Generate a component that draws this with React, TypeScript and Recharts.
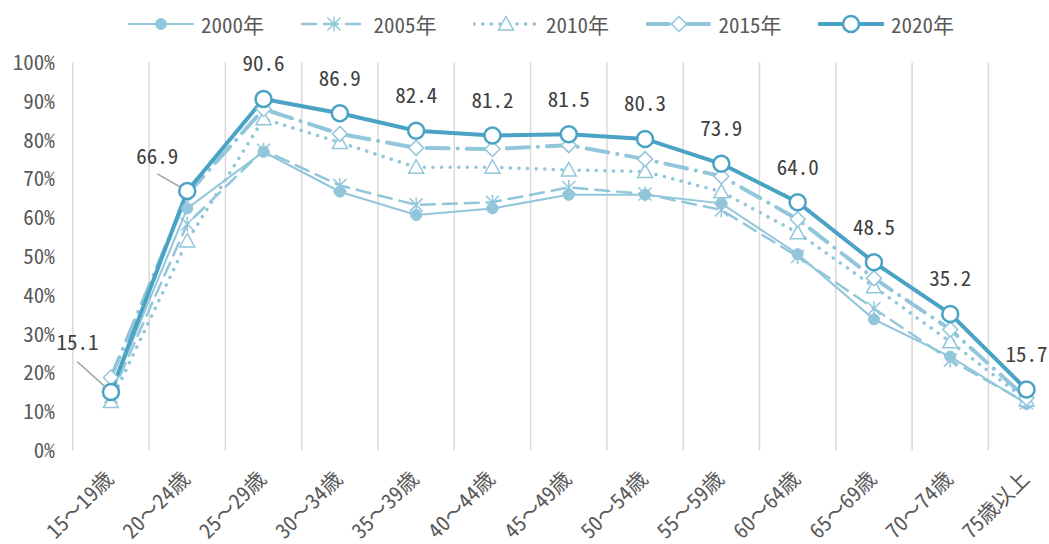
import React from "react";
import { LineChart, Line, XAxis, YAxis, CartesianGrid, Legend, LabelList } from "recharts";

const AGE_GROUPS = [
  "15～19歳", "20～24歳", "25～29歳", "30～34歳", "35～39歳", "40～44歳", "45～49歳",
  "50～54歳", "55～59歳", "60～64歳", "65～69歳", "70～74歳", "75歳以上",
];

const RATE_2000 = [14.8, 62.4, 77.0, 66.7, 60.7, 62.4, 65.9, 65.9, 63.7, 50.6, 33.8, 24.2, 12.0];
const RATE_2005 = [14.0, 58.4, 77.4, 68.3, 63.3, 64.0, 67.8, 66.1, 62.0, 50.0, 36.6, 23.3, 12.3];
const RATE_2010 = [12.6, 54.0, 85.5, 79.4, 73.0, 73.0, 72.3, 71.9, 66.7, 56.1, 42.2, 28.0, 13.0];
const RATE_2015 = [18.8, 66.0, 88.0, 81.6, 78.0, 77.7, 78.7, 75.1, 70.7, 59.6, 44.4, 31.2, 13.5];
const RATE_2020 = [15.1, 66.9, 90.6, 86.9, 82.4, 81.2, 81.5, 80.3, 73.9, 64.0, 48.5, 35.2, 15.7];

const Y_TICKS = [0, 10, 20, 30, 40, 50, 60, 70, 80, 90, 100];

const FONT = "'Noto Sans Mono CJK JP', 'Noto Sans CJK JP', sans-serif";
const LIGHT = "#92C6DA";
const DARK = "#4AA3C4";
const TEXT = "#595959";

const CHART_W = 1070;
const CHART_H = 544;
const LEGEND_H = 46;

type Marker = "dot" | "star" | "triangle" | "diamond" | "ring";

const SERIES: { key: string; name: string; values: number[]; color: string; width: number; dash?: string; marker: Marker }[] = [
  { key: "y2000", name: "2000年", values: RATE_2000, color: LIGHT, width: 2, marker: "dot" },
  { key: "y2005", name: "2005年", values: RATE_2005, color: LIGHT, width: 2.5, dash: "14 8", marker: "star" },
  { key: "y2010", name: "2010年", values: RATE_2010, color: LIGHT, width: 3.5, dash: "0.1 8.5", marker: "triangle" },
  { key: "y2015", name: "2015年", values: RATE_2015, color: LIGHT, width: 4, dash: "22 9 0.1 9", marker: "diamond" },
  { key: "y2020", name: "2020年", values: RATE_2020, color: DARK, width: 4, marker: "ring" },
];

const data = AGE_GROUPS.map((age, i) => {
  const row: Record<string, string | number> = { age };
  SERIES.forEach((s) => (row[s.key] = s.values[i]));
  return row;
});

function MarkerShape({ type, cx, cy, color }: { type: Marker; cx: number; cy: number; color: string }) {
  switch (type) {
    case "dot":
      return <circle cx={cx} cy={cy} r={5.5} fill={color} stroke={color} />;
    case "star":
      return (
        <g stroke={color} strokeWidth={1.5}>
          <line x1={cx} y1={cy - 7.5} x2={cx} y2={cy + 7.5} />
          <line x1={cx - 6.5} y1={cy - 6.5} x2={cx + 6.5} y2={cy + 6.5} />
          <line x1={cx + 6.5} y1={cy - 6.5} x2={cx - 6.5} y2={cy + 6.5} />
        </g>
      );
    case "triangle":
      return (
        <polygon
          points={`${cx},${cy - 7.5} ${cx + 7.5},${cy + 6} ${cx - 7.5},${cy + 6}`}
          fill="#fff"
          stroke={color}
          strokeWidth={1.5}
        />
      );
    case "diamond":
      return (
        <polygon
          points={`${cx},${cy - 7.5} ${cx + 7.5},${cy} ${cx},${cy + 7.5} ${cx - 7.5},${cy}`}
          fill="#fff"
          stroke={color}
          strokeWidth={1.5}
        />
      );
    default:
      return <circle cx={cx} cy={cy} r={8} fill="#fff" stroke={color} strokeWidth={2.5} />;
  }
}

function AgeTick(props: any) {
  const { x, y, payload } = props;
  const ax = x + 4;
  const ay = y + 28;
  return (
    <text
      x={ax}
      y={ay}
      transform={`rotate(-45 ${ax} ${ay})`}
      textAnchor="end"
      fill={TEXT}
      fontSize={21}
      fontFamily={FONT}
    >
      {payload.value}
    </text>
  );
}

// labels for the 2020 line; the first two sit up-left with a leader line
function ValueLabel(props: any) {
  const { x, y, value, index } = props;
  let lx = x;
  let ly = y - 35;
  let leader: React.ReactNode = null;
  if (index === 0 || index === 1) {
    lx = index === 0 ? x - 33.5 : x - 30;
    ly = index === 0 ? y - 49 : y - 34.5;
    const sx = lx;
    const sy = ly + (index === 0 ? 19 : 17.5);
    const d = Math.hypot(x - sx, y - sy);
    const ex = x - ((x - sx) / d) * 8;
    const ey = y - ((y - sy) / d) * 8;
    leader = <line x1={sx} y1={sy} x2={ex} y2={ey} stroke="#A6A6A6" strokeWidth={1.5} />;
  }
  return (
    <g>
      {leader}
      <text x={lx} y={ly + 7.5} textAnchor="middle" fill="#404040" fontSize={21} fontFamily={FONT}>
        {Number(value).toFixed(1)}
      </text>
    </g>
  );
}

function LegendBox() {
  return (
    <div style={{ position: "relative", width: 1049, height: LEGEND_H, fontFamily: FONT, fontSize: 21, color: TEXT }}>
      {SERIES.map((s, i) => (
        <div key={s.key} style={{ position: "absolute", left: 128 + i * 172.5, top: 9, height: 30, display: "flex", alignItems: "center" }}>
          <svg width={66} height={30}>
            <line
              x1={1}
              y1={15}
              x2={65}
              y2={15}
              stroke={s.color}
              strokeWidth={s.width}
              strokeDasharray={s.dash}
              strokeLinecap="round"
            />
            <MarkerShape type={s.marker} cx={33} cy={15} color={s.color} />
          </svg>
          <span style={{ marginLeft: 7, lineHeight: "30px" }}>{s.name}</span>
        </div>
      ))}
    </div>
  );
}

export default function App() {
  return (
    <div style={{ position: "absolute", left: 0, top: 0, width: 1049, height: CHART_H, overflow: "hidden", background: "#fff" }}>
      <LineChart
        width={CHART_W}
        height={CHART_H}
        data={data}
        margin={{ top: 62.5 - LEGEND_H, right: CHART_W - 1064.7, bottom: 0, left: 0 }}
      >
        <CartesianGrid
          horizontal={false}
          stroke="#D9D9D9"
          strokeWidth={1.5}
          verticalCoordinatesGenerator={({ offset }: any) =>
            [...AGE_GROUPS.map((_, i) => i), AGE_GROUPS.length].map(
              (i) => offset.left + (offset.width / AGE_GROUPS.length) * i
            )
          }
        />
        <XAxis
          dataKey="age"
          scale="band"
          interval={0}
          axisLine={false}
          tickLine={false}
          tickSize={0}
          height={93.5}
          tick={<AgeTick />}
        />
        <YAxis
          domain={[0, 100]}
          ticks={Y_TICKS}
          width={72.8}
          axisLine={false}
          tickLine={false}
          tickMargin={12}
          tickFormatter={(v: number) => `${v}%`}
          tick={{ fill: TEXT, fontSize: 21, fontFamily: FONT }}
        />
        <Legend verticalAlign="top" wrapperStyle={{ left: 0, top: 0, width: 1049 }} content={() => <LegendBox />} />
        {SERIES.map((s) => (
          <Line
            key={s.key}
            dataKey={s.key}
            name={s.name}
            type="linear"
            stroke={s.color}
            strokeWidth={s.width}
            strokeDasharray={s.dash}
            strokeLinecap="round"
            isAnimationActive={false}
            activeDot={false}
            dot={(p: any) => <MarkerShape key={p.index} type={s.marker} cx={p.cx} cy={p.cy} color={s.color} />}
          >
            {s.key === "y2020" && <LabelList dataKey={s.key} content={<ValueLabel />} />}
          </Line>
        ))}
      </LineChart>
    </div>
  );
}
